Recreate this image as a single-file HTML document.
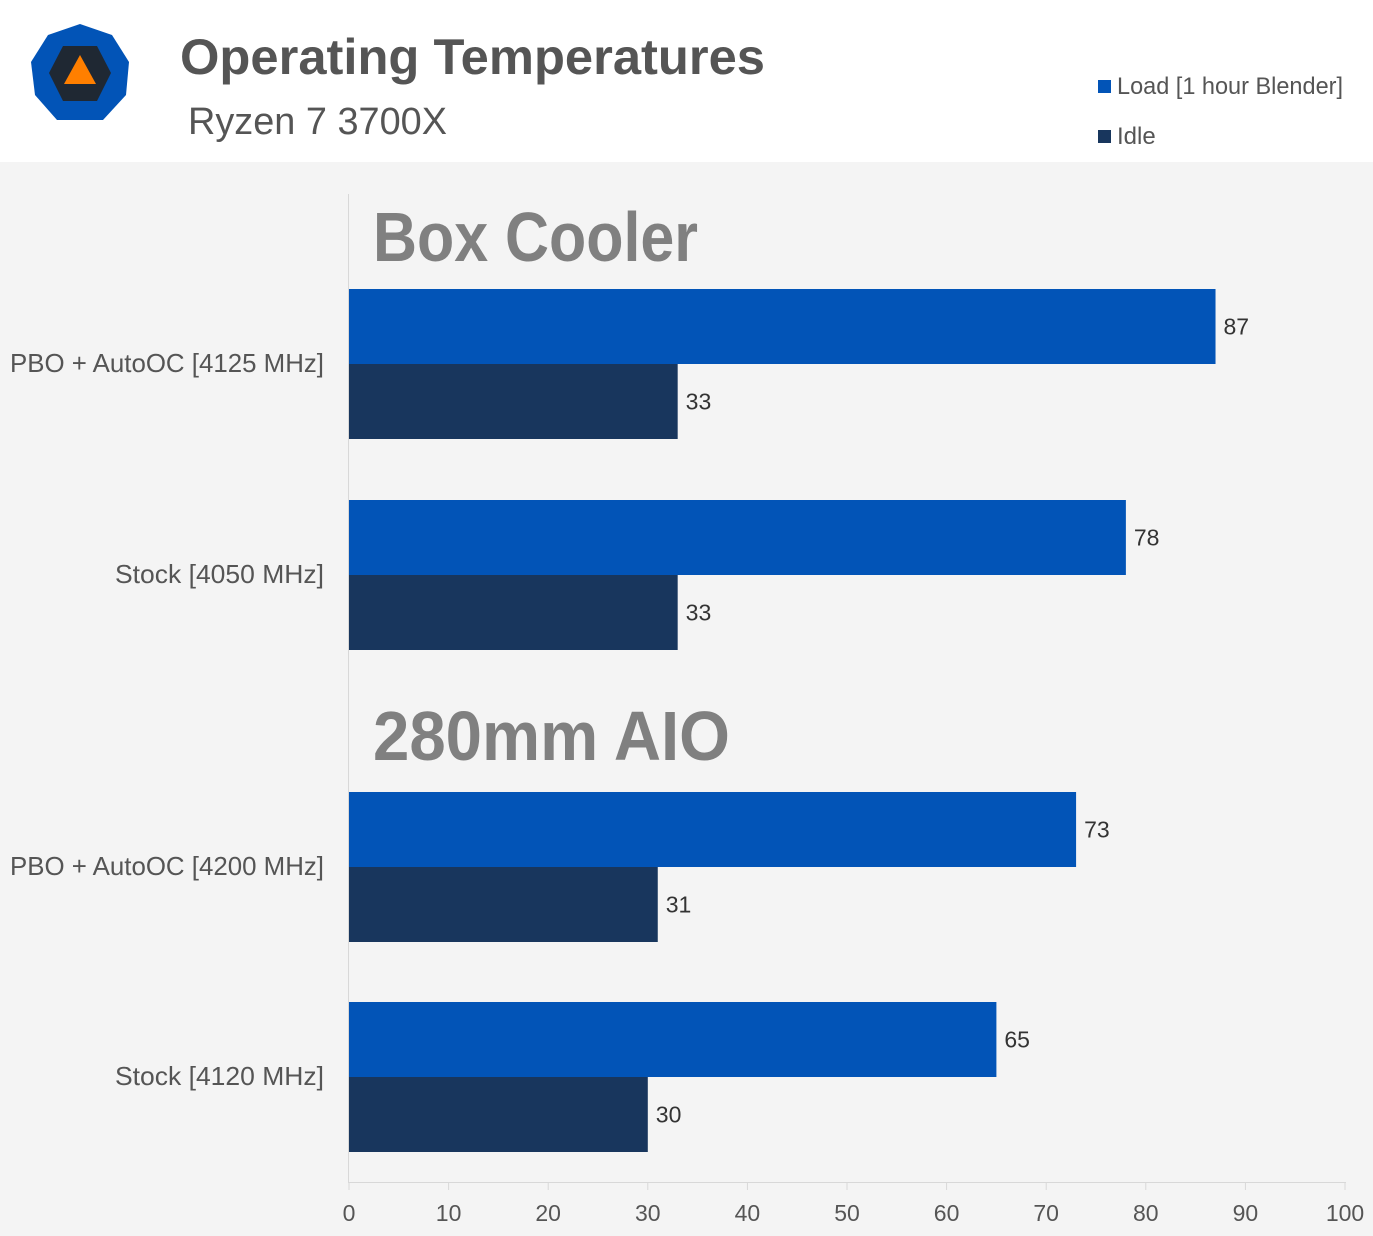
<!DOCTYPE html>
<html><head><meta charset="utf-8"><style>
html,body{margin:0;padding:0;background:#f4f4f4}
svg{display:block;font-family:"Liberation Sans",sans-serif}
</style></head><body>
<svg id="chart" width="1373" height="1236" viewBox="0 0 1373 1236">
<rect x="0" y="0" width="1373" height="1236" fill="#f4f4f4"/>
<rect x="0" y="0" width="1373" height="162" fill="#ffffff"/>
<g>
<polygon points="80,24 112,35 129,62 126,95 103,120 57,120 35,95 31,62 48,35" fill="#0254b7"/>
<polygon points="63,46 97,46 111,73 97,101 63,101 49,73" fill="#1f2833"/>
<polygon points="80,55 96,84 64,84" fill="#ff7f00"/>
</g>
<text x="180" y="74" font-size="50" font-weight="bold" fill="#555" textLength="585" lengthAdjust="spacingAndGlyphs">Operating Temperatures</text>
<text x="188" y="134" font-size="38" fill="#555" textLength="259" lengthAdjust="spacingAndGlyphs">Ryzen 7 3700X</text>
<g>
<rect x="1098" y="80" width="13" height="13" fill="#0254b7"/>
<text x="1117" y="94" font-size="24" fill="#555" textLength="226" lengthAdjust="spacingAndGlyphs">Load [1 hour Blender]</text>
<rect x="1098" y="130" width="13" height="13" fill="#18365d"/>
<text x="1117" y="144" font-size="24" fill="#555">Idle</text>
</g>
<text x="373" y="261" font-size="70" font-weight="bold" fill="#808080" textLength="325" lengthAdjust="spacingAndGlyphs">Box Cooler</text>
<text x="373" y="760" font-size="70" font-weight="bold" fill="#808080" textLength="357" lengthAdjust="spacingAndGlyphs">280mm AIO</text>
<g id="bars"></g>
<g id="axis"></g>
</svg>
<script>
const categories = ["PBO + AutoOC [4125 MHz]", "Stock [4050 MHz]", "PBO + AutoOC [4200 MHz]", "Stock [4120 MHz]"];
const loadValues = [87, 78, 73, 65];
const idleValues = [33, 33, 31, 30];
const tickLabels = [0, 10, 20, 30, 40, 50, 60, 70, 80, 90, 100];
const NS = "http://www.w3.org/2000/svg";
const x0 = 349, x1 = 1345;
function xScale(v){ return x0 + (v - 0) / 100 * (x1 - x0); }
const rowTops = [289, 500, 792, 1002];
const barH = 75;
const bars = document.getElementById('bars');
const axis = document.getElementById('axis');
function mk(tag, attrs, parent){ const e = document.createElementNS(NS, tag); for (const k in attrs) e.setAttribute(k, attrs[k]); parent.appendChild(e); return e; }
categories.forEach((c, i) => {
  const top = rowTops[i];
  const lab = mk('text', {x: 324, y: top + barH + 8, 'font-size': 26, fill: '#555', 'text-anchor': 'end', textLength: c.startsWith('PBO') ? 314 : 209, lengthAdjust: 'spacingAndGlyphs'}, bars);
  lab.textContent = c;
  
  
  const r1 = mk('rect', {x: x0, y: top, width: xScale(loadValues[i]) - x0, height: barH, fill: '#0254b7'}, bars);
  
  
  const t1 = mk('text', {x: xScale(loadValues[i]) + 8, y: top + barH/2 + 8, 'font-size': 23, fill: '#333'}, bars);
  t1.textContent = loadValues[i];
  
  
  const r2 = mk('rect', {x: x0, y: top + barH, width: xScale(idleValues[i]) - x0, height: barH, fill: '#18365d'}, bars);
  
  
  const t2 = mk('text', {x: xScale(idleValues[i]) + 8, y: top + barH*1.5 + 8, 'font-size': 23, fill: '#333'}, bars);
  t2.textContent = idleValues[i];
  
  
});
const yl = mk('line', {x1: 348.5, y1: 194, x2: 348.5, y2: 1182, stroke: '#d8d8d8', 'stroke-width': 1}, axis);


const xl = mk('line', {x1: 348, y1: 1182.5, x2: 1346, y2: 1182.5, stroke: '#d8d8d8', 'stroke-width': 1}, axis);


tickLabels.forEach(t => {
  const x = xScale(t);
  const tk = mk('line', {x1: x, y1: 1182, x2: x, y2: 1190, stroke: '#d8d8d8', 'stroke-width': 1}, axis);
  
  
  const tl = mk('text', {x: x, y: 1221, 'font-size': 23, fill: '#555', 'text-anchor': 'middle'}, axis);
  tl.textContent = t;
  
  
});
</script>
</body></html>
